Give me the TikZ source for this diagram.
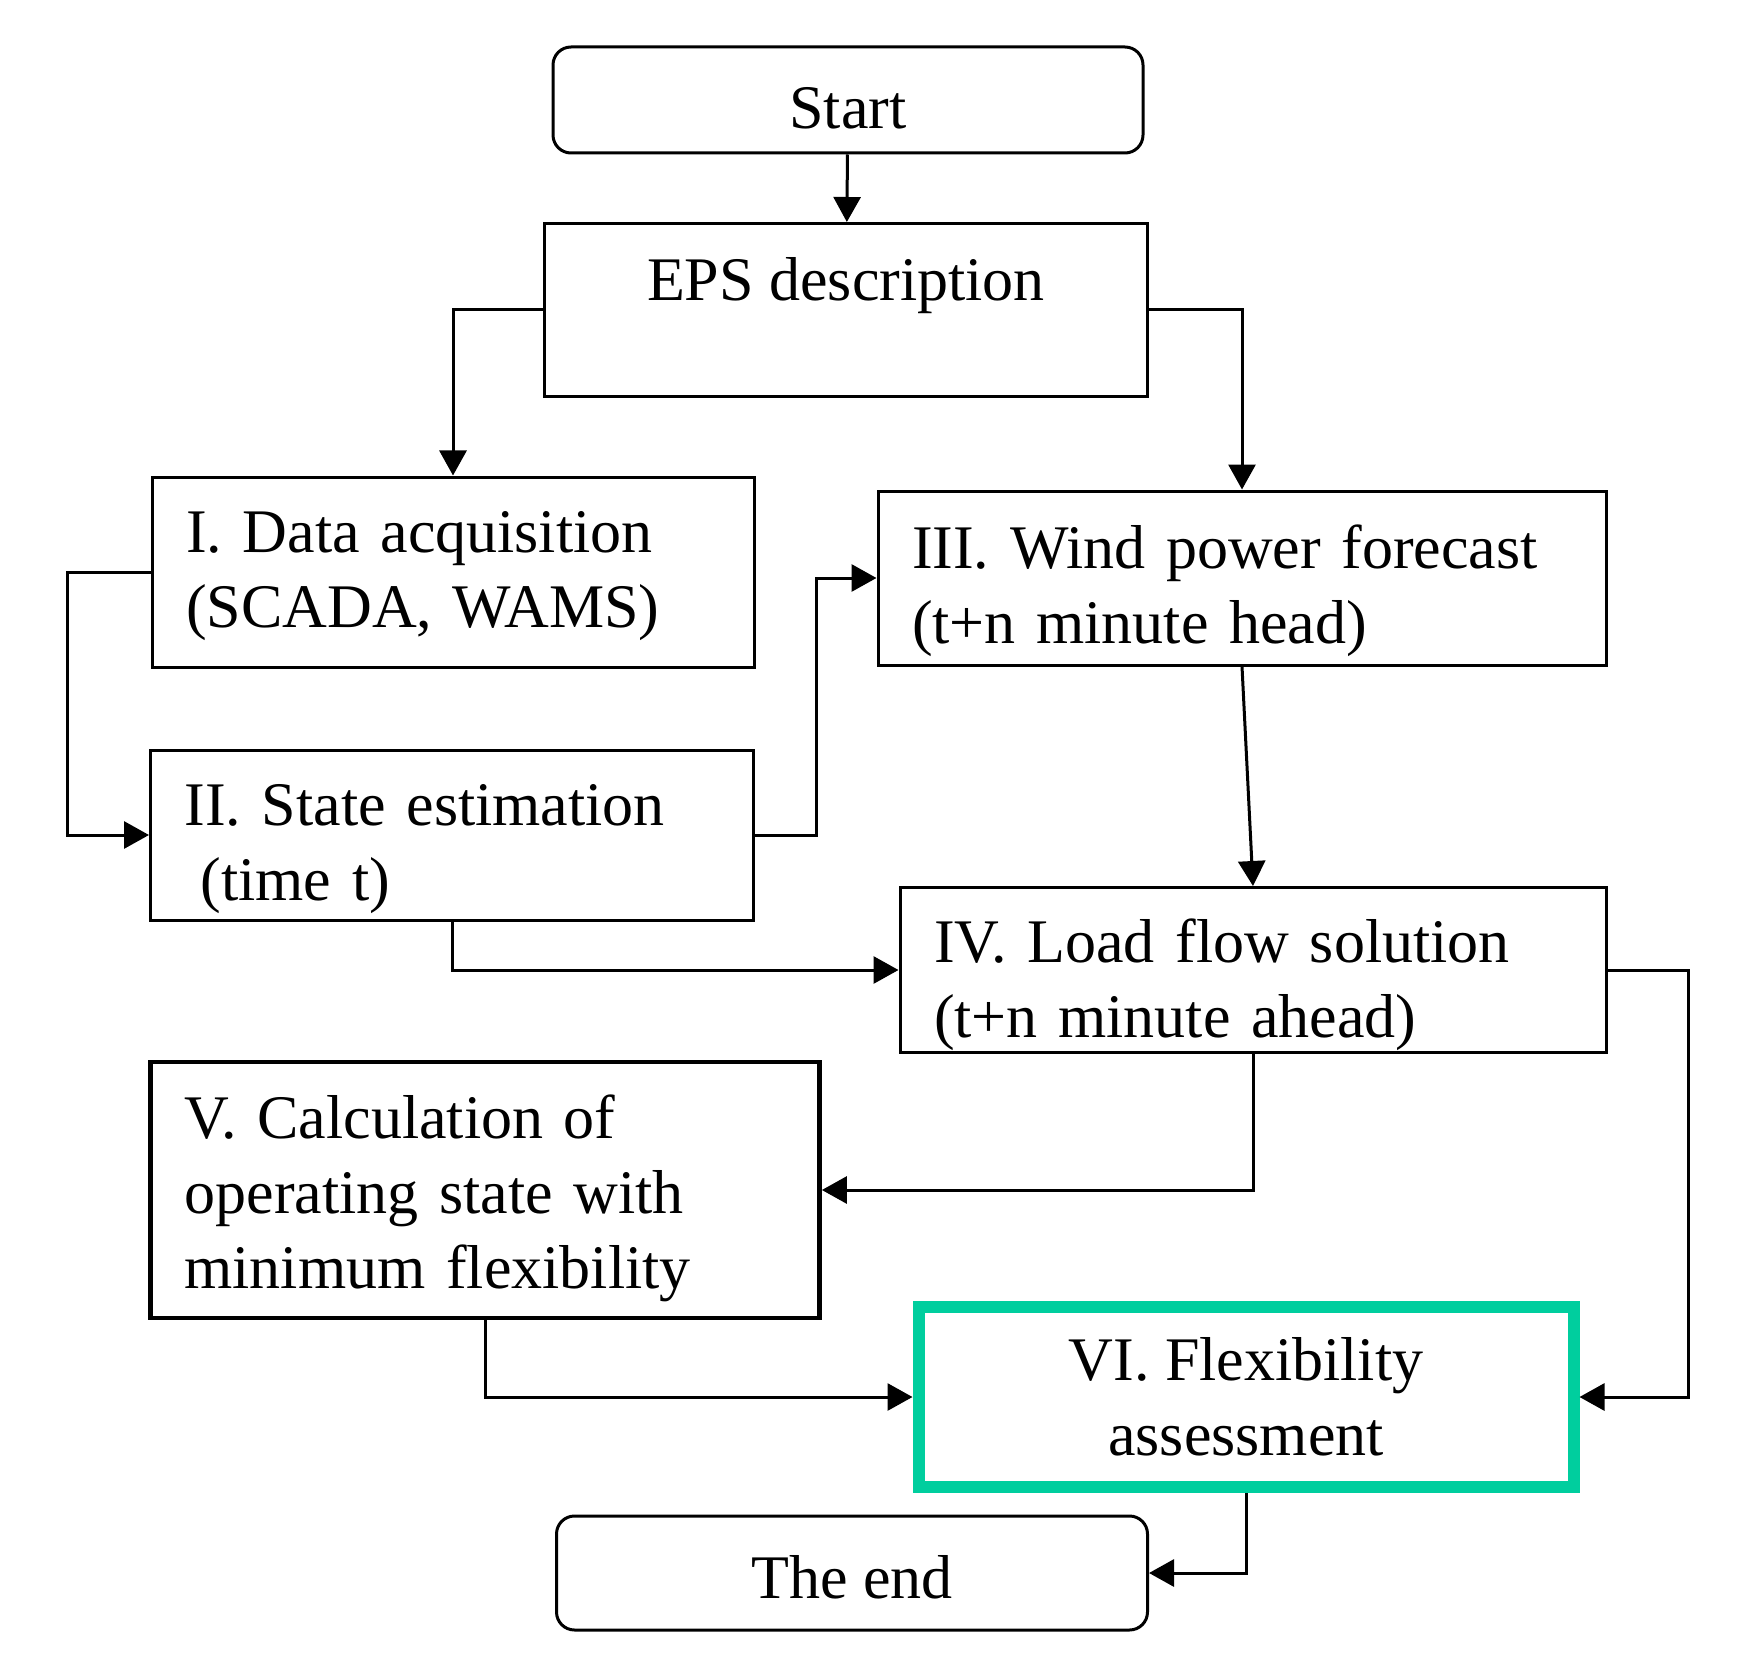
\documentclass[tikz,border=0pt]{standalone}
\usepackage{fontspec}
\setmainfont{Liberation Serif}
\usetikzlibrary{arrows.meta}
\definecolor{flexgreen}{RGB}{0,206,158}

\begin{document}
\begin{tikzpicture}[x=0.5pt,y=-0.5pt,
  font=\fontsize{31pt}{37.5pt}\selectfont,
  stepbox/.style={draw, line width=1.5pt, inner xsep=17pt, inner ysep=0pt, align=left,
    execute at begin node={\rule{0pt}{#1}}},
  stepbox/.default=35pt,
  termbox/.style={draw, line width=1.5pt, rounded corners=9pt},
  flow/.style={line width=1.5pt, -{Triangle[length=12.5pt,width=13.5pt]}}]
\useasboundingbox (0,0) rectangle (1745,1658);

% boxes
\node[termbox, minimum width=295pt, minimum height=53pt, text height=29pt] (start) at (848,100) {Start};
\node[draw, line width=1.5pt, minimum width=301.5pt, minimum height=86.5pt, text depth=31pt] (eps) at (846,310) {EPS description};
\node[stepbox=25pt, text width=301pt-34pt, minimum height=95pt] (b1) at (453,572)
  {I. Data acquisition\\(SCADA, WAMS)};
\node[stepbox, text width=301.5pt-34pt, minimum height=85pt] (b2) at (452,835)
  {II. State estimation\\\hspace*{8pt}(time t)};
\node[stepbox, text width=364pt-34pt, minimum height=87pt] (b3) at (1242,578)
  {III. Wind power forecast\\(t+n minute head)};
\node[stepbox=37pt, text width=353pt-34pt, minimum height=82.5pt] (b4) at (1253,970)
  {IV. Load flow solution\\(t+n minute ahead)};
\node[stepbox=30pt, line width=2.4pt, text width=334.5pt-34pt, minimum height=128pt] (b5) at (485,1190)
  {V. Calculation of\\operating state with\\minimum flexibility};
\node[draw=flexgreen, line width=6pt, align=center, minimum width=327.5pt, minimum height=90pt] (b6) at (1246,1397)
  {VI. Flexibility\\assessment};
\node[termbox, minimum width=295.5pt, minimum height=57pt, text height=26pt] (end) at (852,1573) {The end};

% connectors
\draw[flow] (start) -- (eps);
\draw[flow] (eps.west) -| (b1.north);
\draw[flow] (eps.east) -| (b3.north);
\draw[flow] (b1.west) -- ++(-41.5pt,0) |- (b2.west);
\draw[flow] (b2.east) -- ++(30.5pt,0) |- (b3.west);
\draw[flow] (b3.south) -- (b4.north);
\draw[flow] (b2.south) |- (b4.west);
\draw[flow] (b4.south) |- (b5.east);
\draw[flow] (b4.east) -- ++(40.5pt,0) |- (b6.east);
\draw[flow] (b5.south) |- (b6.west);
\draw[flow] (b6.south) |- (end.east);
\end{tikzpicture}
\end{document}
